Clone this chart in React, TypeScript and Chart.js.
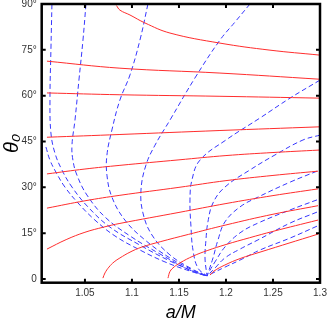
import React, { useEffect, useRef } from "react";
import { Chart, registerables } from "chart.js";

Chart.register(...registerables);

// axis ranges and tick labels
const xMin = 1.004;
const xMax = 1.3;
const yMin = -1.2;
const yMax = 90;
const xTicks = [1.05, 1.1, 1.15, 1.2, 1.25, 1.3];
const yTicks = [0, 15, 30, 45, 60, 75, 90];

// red solid curves (a/M, theta0 in degrees)
const red1A = [1.0835, 1.0872, 1.0979, 1.1138, 1.1404, 1.1936, 1.2468, 1.299];
const red1T = [89.5, 88.0, 86.4, 83.8, 80.5, 77.2, 74.9, 73.3];
const red2A = [1.0096, 1.0872, 1.1936, 1.299];
const red2T = [71.3, 69.0, 67.4, 65.4];
const red3A = [1.0096, 1.0872, 1.1936, 1.299];
const red3T = [60.9, 60.3, 59.8, 59.2];
const red4A = [1.0096, 1.0872, 1.1936, 1.299];
const red4T = [46.4, 47.3, 48.6, 49.8];
const red5A = [1.0096, 1.05, 1.0872, 1.15, 1.2, 1.25, 1.299];
const red5T = [34.4, 36.0, 37.2, 39.0, 40.4, 41.4, 42.2];
const red6A = [1.0096, 1.05, 1.0872, 1.15, 1.2, 1.25, 1.2979];
const red6T = [23.2, 25.6, 27.4, 30.0, 32.2, 33.9, 35.3];
const red7A = [1.0096, 1.03, 1.05, 1.07, 1.0872, 1.15, 1.2, 1.25, 1.2979];
const red7T = [9.8, 12.9, 15.3, 17.0, 18.2, 21.8, 24.7, 27.3, 29.5];
const red8A = [1.0691, 1.0713, 1.0755, 1.081, 1.0872, 1.0979, 1.11, 1.13, 1.16, 1.2, 1.25, 1.2979];
const red8T = [0.3, 2.0, 3.9, 5.6, 6.9, 8.8, 10.4, 12.2, 14.6, 17.7, 21.2, 24.0];
const red9A = [1.1383, 1.1405, 1.145, 1.1511, 1.165, 1.18, 1.2, 1.225, 1.25, 1.2979];
const red9T = [0.3, 2.5, 4.0, 5.3, 7.5, 9.3, 11.3, 13.5, 15.6, 19.3];
const red10A = [1.183, 1.1872, 1.1989, 1.215, 1.2362, 1.2979];
const red10T = [1.3, 2.6, 4.6, 6.7, 8.8, 14.7];

// blue dashed curves
const blue0A = [1.0085, 1.0128, 1.0191, 1.0287, 1.0426, 1.0606, 1.0819, 1.1085, 1.1351, 1.1617, 1.1798];
const blue0T = [43.2, 38.9, 35.0, 30.1, 24.9, 19.3, 14.1, 9.5, 5.6, 2.6, 1.0];
const blue1A = [1.0149, 1.0138, 1.0128, 1.0138, 1.0181, 1.0255, 1.0362, 1.0532, 1.0766, 1.1085, 1.1404, 1.167, 1.1798];
const blue1T = [90.0, 74.9, 58.6, 47.8, 41.2, 35.7, 30.1, 23.6, 17.0, 11.1, 5.9, 2.3, 1.0];
const blue2A = [1.0511, 1.0479, 1.0436, 1.0394, 1.0362, 1.0372, 1.0415, 1.0521, 1.0713, 1.0979, 1.1298, 1.1617, 1.1798];
const blue2T = [90.0, 78.2, 65.1, 52.0, 43.8, 38.9, 34.0, 27.5, 20.3, 14.1, 8.2, 2.9, 1.0];
const blue3A = [1.117, 1.1085, 1.0979, 1.0872, 1.0787, 1.0734, 1.0734, 1.0787, 1.0925, 1.1138, 1.1404, 1.167, 1.1798];
const blue3T = [90.0, 78.2, 66.8, 58.6, 48.8, 40.6, 34.0, 26.8, 19.3, 12.8, 6.9, 2.6, 1.0];
const blue4A = [1.2255, 1.2096, 1.1936, 1.167, 1.1404, 1.1245, 1.1149, 1.1096, 1.1117, 1.1213, 1.1404, 1.1638, 1.1798];
const blue4T = [90.0, 84.1, 78.2, 65.8, 52.0, 43.8, 37.3, 29.1, 21.6, 14.4, 7.9, 3.3, 1.0];
const blue5A = [1.3, 1.2681, 1.2362, 1.2, 1.1723, 1.1638, 1.1617, 1.1628, 1.1649, 1.1702, 1.1798];
const blue5T = [65.1, 59.2, 52.7, 45.5, 38.9, 32.4, 25.9, 17.0, 9.5, 3.6, 1.0];
const blue6A = [1.3, 1.2819, 1.2521, 1.2255, 1.1989, 1.1862, 1.1808, 1.1787, 1.1777, 1.1798];
const blue6T = [47.1, 45.5, 40.6, 35.7, 30.1, 24.9, 18.7, 12.8, 6.9, 1.0];
const blue7A = [1.2968, 1.2681, 1.234, 1.2149, 1.1989, 1.1915, 1.1862, 1.1819, 1.1798];
const blue7T = [35.3, 31.7, 26.8, 23.6, 18.7, 12.8, 6.9, 2.9, 1.0];
const blue8A = [1.2968, 1.2681, 1.234, 1.2149, 1.1989, 1.1883, 1.1819, 1.1798];
const blue8T = [25.9, 22.6, 18.3, 15.1, 10.5, 5.6, 2.3, 1.0];
const blue9A = [1.2968, 1.2681, 1.234, 1.2149, 1.1989, 1.1883, 1.1798];
const blue9T = [21.9, 18.3, 12.8, 9.8, 6.9, 3.6, 1.0];
const blue10A = [1.2968, 1.2681, 1.2362, 1.2149, 1.1989, 1.1862, 1.1798];
const blue10T = [17.3, 13.4, 9.5, 6.2, 3.9, 2.0, 1.0];

const redCurves = [
  [red1A, red1T], [red2A, red2T], [red3A, red3T], [red4A, red4T], [red5A, red5T],
  [red6A, red6T], [red7A, red7T], [red8A, red8T], [red9A, red9T], [red10A, red10T],
];
const blueCurves = [
  [blue0A, blue0T], [blue1A, blue1T], [blue2A, blue2T], [blue3A, blue3T], [blue4A, blue4T],
  [blue5A, blue5T], [blue6A, blue6T], [blue7A, blue7T], [blue8A, blue8T], [blue9A, blue9T], [blue10A, blue10T],
];

const RED = "rgb(255,45,45)";
const BLUE = "rgb(55,55,255)";
const FONT = "'Liberation Sans', Arial, sans-serif";

const framePlugin = {
  id: "frame",
  afterDraw(chart: any) {
    const { ctx, chartArea } = chart;
    const { left, right, top, bottom } = chartArea;
    const xs = chart.scales.x;
    const ys = chart.scales.y;
    ctx.save();
    ctx.strokeStyle = "#000";
    ctx.lineWidth = 2;
    const tl = 4;
    xTicks.forEach((v) => {
      const px = xs.getPixelForValue(v);
      ctx.beginPath();
      ctx.moveTo(px, bottom);
      ctx.lineTo(px, bottom - tl);
      ctx.moveTo(px, top);
      ctx.lineTo(px, top + tl);
      ctx.stroke();
    });
    yTicks.forEach((v) => {
      const py = ys.getPixelForValue(v);
      ctx.beginPath();
      ctx.moveTo(left, py);
      ctx.lineTo(left + tl, py);
      ctx.moveTo(right, py);
      ctx.lineTo(right - tl, py);
      ctx.stroke();
    });
    ctx.lineWidth = 2.5;
    ctx.strokeRect(left, top, right - left, bottom - top);
    ctx.restore();
  },
};

export default function App() {
  const ref = useRef<HTMLCanvasElement | null>(null);
  useEffect(() => {
    if (!ref.current) return;
    const datasets: any[] = [];
    redCurves.forEach(([a, t], i) => {
      datasets.push({
        label: "red" + i,
        data: a.map((v, k) => ({ x: v, y: t[k] })),
        showLine: true,
        borderColor: RED,
        borderWidth: 1,
        pointRadius: 0,
        tension: 0.4,
        fill: false,
      });
    });
    blueCurves.forEach(([a, t], i) => {
      datasets.push({
        label: "blue" + i,
        data: a.map((v, k) => ({ x: v, y: t[k] })),
        showLine: true,
        borderColor: BLUE,
        borderWidth: 1,
        borderDash: [5, 3],
        pointRadius: 0,
        tension: 0.4,
        fill: false,
      });
    });
    const chart = new Chart(ref.current, {
      type: "scatter",
      data: { datasets },
      options: {
        animation: false,
        responsive: false,
        devicePixelRatio: 1,
        layout: { padding: { top: 4, right: 7, left: 0, bottom: 0 } },
        plugins: { legend: { display: false }, tooltip: { enabled: false } },
        scales: {
          x: {
            type: "linear",
            min: xMin,
            max: xMax,
            grid: { display: false, drawTicks: false },
            border: { display: false },
            afterBuildTicks: (axis: any) => {
              axis.ticks = xTicks.map((v) => ({ value: v }));
            },
            afterFit: (axis: any) => {
              axis.height = 36.3;
              axis.paddingLeft = 0;
              axis.paddingRight = 0;
            },
            ticks: {
              autoSkip: false,
              maxRotation: 0,
              padding: 5,
              color: "#333",
              font: { family: FONT, size: 10 },
              callback: (v: any) => String(Number(v)),
            },
            title: {
              display: true,
              text: "a/M",
              color: "#000",
              font: { family: FONT, size: 18, style: "italic", lineHeight: 1 },
              padding: { top: 0, bottom: -3 },
            },
          },
          y: {
            type: "linear",
            min: yMin,
            max: yMax,
            grid: { display: false, drawTicks: false },
            border: { display: false },
            afterBuildTicks: (axis: any) => {
              axis.ticks = yTicks.map((v) => ({ value: v }));
            },
            afterFit: (axis: any) => {
              axis.width = 41.7;
              axis.paddingTop = 0;
              axis.paddingBottom = 0;
            },
            ticks: {
              autoSkip: false,
              padding: 5,
              color: "#333",
              font: { family: FONT, size: 10 },
              callback: (v: any) => (Number(v) === 0 ? "0" : v + "°"),
            },
            title: {
              display: true,
              text: "θ₀",
              color: "#000",
              font: { family: FONT, size: 20, style: "italic", lineHeight: 1 },
              padding: { top: 2, bottom: 0 },
            },
          },
        },
      },
      plugins: [framePlugin],
    });
    return () => chart.destroy();
  }, []);
  return (
    <div style={{ position: "fixed", left: 0, top: 0, width: 327, height: 319, background: "#fff" }}>
      <canvas ref={ref} width={327} height={319} style={{ display: "block" }} />
    </div>
  );
}
